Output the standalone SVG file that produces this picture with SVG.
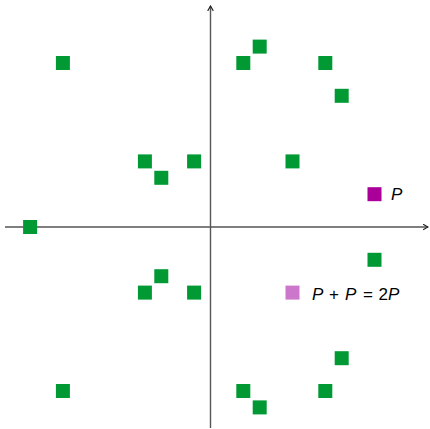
<svg xmlns="http://www.w3.org/2000/svg" width="430" height="429" viewBox="0 0 430 429">
<defs>
<style>
.pt{fill:#009933}
.ax{stroke:#555;stroke-width:1.4;fill:none}
.lbl{font-family:"Liberation Sans",Arial,sans-serif;font-size:17px;fill:#000}
.it{font-style:italic}
</style>
<marker id="arr" viewBox="0 0 10 10" refX="8" refY="5" markerWidth="7" markerHeight="7" orient="auto" markerUnits="userSpaceOnUse">
<path d="M1,1 L8,5 L1,9" fill="none" stroke="#222" stroke-width="1.6"/>
</marker>
</defs>
<rect width="430" height="429" fill="#fff"/>
<g id="connectors">
<line class="ax" x1="5" y1="227" x2="428" y2="227" marker-end="url(#arr)"/>
<line class="ax" x1="210.5" y1="428" x2="210.5" y2="6" marker-end="url(#arr)"/>
</g>
<g id="points">
<rect class="pt" x="55.9" y="56" width="14" height="14"/>
<rect class="pt" x="236.3" y="56" width="14" height="14"/>
<rect class="pt" x="252.7" y="39.6" width="14" height="14"/>
<rect class="pt" x="318.3" y="56" width="14" height="14"/>
<rect class="pt" x="334.7" y="88.8" width="14" height="14"/>
<rect class="pt" x="137.9" y="154.4" width="14" height="14"/>
<rect class="pt" x="187.1" y="154.4" width="14" height="14"/>
<rect class="pt" x="154.3" y="170.8" width="14" height="14"/>
<rect class="pt" x="285.5" y="154.4" width="14" height="14"/>
<rect class="pt" x="23.1" y="220" width="14" height="14"/>
<rect class="pt" x="367.5" y="252.8" width="14" height="14"/>
<rect class="pt" x="154.3" y="269.2" width="14" height="14"/>
<rect class="pt" x="137.9" y="285.6" width="14" height="14"/>
<rect class="pt" x="187.1" y="285.6" width="14" height="14"/>
<rect class="pt" x="334.7" y="351.2" width="14" height="14"/>
<rect class="pt" x="55.9" y="384" width="14" height="14"/>
<rect class="pt" x="236.3" y="384" width="14" height="14"/>
<rect class="pt" x="318.3" y="384" width="14" height="14"/>
<rect class="pt" x="252.7" y="400.4" width="14" height="14"/>
</g>
<g id="P">
<rect x="367.5" y="187.2" width="14" height="14" fill="#aa0099"/>
<text class="lbl it" x="391" y="200">P</text>
</g>
<g id="twoP">
<rect x="285.5" y="285.6" width="14" height="14" fill="#cc77cc"/>
<text class="lbl" y="300"><tspan class="it" x="312">P</tspan><tspan x="329">+</tspan><tspan class="it" x="345">P</tspan><tspan x="363">=</tspan><tspan x="378.5">2</tspan><tspan class="it" x="388">P</tspan></text>
</g>
</svg>
